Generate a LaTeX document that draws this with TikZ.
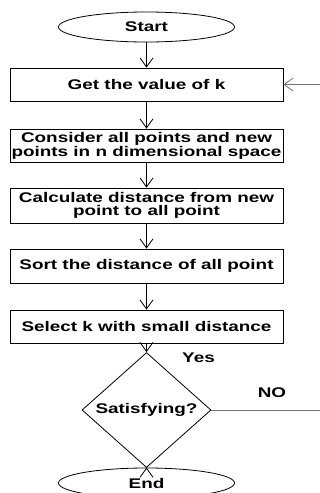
\documentclass[tikz,border=0pt]{standalone}
\usepackage{fontspec}
\setmainfont{Liberation Sans}[FakeStretch=1.35]
\usepackage{tikz}
\usetikzlibrary{shapes,arrows.meta}
\tikzstyle{term}=[draw,ellipse,minimum width=176pt,minimum height=30pt,inner sep=0pt]
\tikzstyle{proc}=[draw,rectangle,minimum width=273pt,minimum height=33pt,align=center,inner sep=1pt]
\tikzstyle{decide}=[draw,diamond,minimum width=129pt,minimum height=78pt,inner sep=0pt]
\tikzstyle{flow}=[-{Straight Barb[length=9pt,width=13pt]}]
\tikzstyle{back}=[draw=black!55]

\begin{document}
\begin{tikzpicture}[x=1pt,y=1pt,line width=0.8pt,
    every node/.style={font=\bfseries\fontsize{14}{12.5}\selectfont}]
  \useasboundingbox (0,0) rectangle (320,-493);
  \node[term] (start) at (146.5,-27) {Start};
  \node[proc] (get) at (146.5,-84.5) {Get the value of k};
  \node[proc] (consider) at (146.5,-145.5) {Consider all points and new\\points in n dimensional space};
  \node[proc,minimum height=35pt] (calc) at (146.5,-205.5) {Calculate distance from new\\point to all point};
  \node[proc,minimum height=34pt] (sort) at (146.5,-266) {Sort the distance of all point};
  \node[proc] (select) at (146.5,-326.5) {Select k with small distance};
  \node[decide] (sat) at (146.5,-410) {Satisfying?};
  \node[term] (end) at (146.5,-483) {End};
  % main flow
  \draw[flow] (start) -- (get);
  \draw[flow] (get) -- (consider);
  \draw[flow] (consider) -- (calc);
  \draw[flow] (calc) -- (sort);
  \draw[flow] (sort) -- (select);
  \draw[flow] (select) -- (sat);
  \draw[flow] (sat) -- (end);
  % loop back
  \coordinate (noend) at (320,-410);
  \coordinate (backin) at (320,-84.5);
  \draw[back] (sat.east) -- (noend);
  \draw[back,flow] (backin) -- (get.east);
  \node (yes) at (198.5,-357.5) {Yes};
  \node (no) at (272,-393) {NO};
\end{tikzpicture}
\end{document}
